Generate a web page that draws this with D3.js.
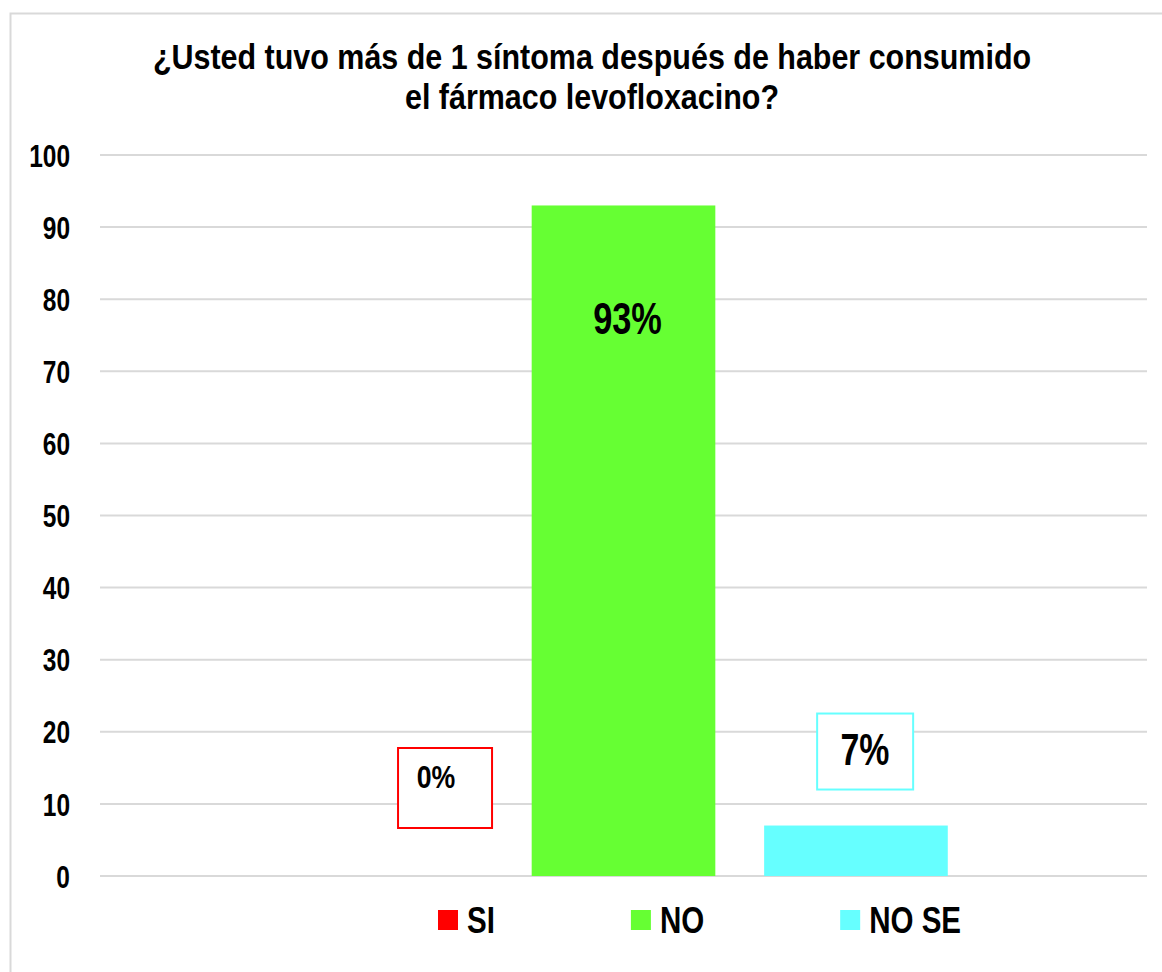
<!DOCTYPE html>
<html>
<head>
<meta charset="utf-8">
<script src="https://cdn.jsdelivr.net/npm/d3@7"></script>
<style>
  body { margin: 0; background: #fff; }
  text { font-family: "Liberation Sans Narrow", "Arial Narrow", "Liberation Sans", Arial, sans-serif; font-weight: bold; fill: #000; }
</style>
</head>
<body>
<div id="chart"></div>
<script>
var categories = ["SI", "NO", "NO SE"];
var values = [0, 93, 7];
var valueLabels = ["0%", "93%", "7%"];
var colors = ["#ff0000", "#66ff33", "#66ffff"];
var yTicks = [0, 10, 20, 30, 40, 50, 60, 70, 80, 90, 100];
var titleLines = ["¿Usted tuvo más de 1 síntoma después de haber consumido", "el fármaco levofloxacino?"];

var width = 1162, height = 972;
var plot = {left: 100, right: 1147, top: 155, bottom: 876};

// the original uses a narrow face, squeeze the text horizontally
function condense(sel, k) {
    sel.each(function() {
        var w = this.getComputedTextLength();
        d3.select(this)
            .attr("textLength", w * k)
            .attr("lengthAdjust", "spacingAndGlyphs");
    });
}

var svg = d3.select("#chart")
    .append("svg")
    .attr("width", width)
    .attr("height", height);

// outer chart border
svg.append("rect")
    .attr("x", 10.5)
    .attr("y", 13.5)
    .attr("width", 1160)
    .attr("height", 980)
    .attr("fill", "#fff")
    .attr("stroke", "#d9d9d9")
    .attr("stroke-width", 2);

var y = d3.scaleLinear()
    .domain([0, 100])
    .range([plot.bottom, plot.top]);

var x = d3.scaleBand()
    .domain(categories)
    .range([plot.left, plot.right])
    .paddingInner(0.21)
    .paddingOuter(0.857);

// title
svg.append("g")
    .selectAll("text")
    .data(titleLines)
    .enter()
    .append("text")
    .attr("text-anchor", "middle")
    .attr("font-size", 35)
    .attr("x", 592)
    .attr("y", function(d, i) { return 69 + i * 40; })
    .text(function(d) { return d; })
    .call(condense, 0.87);

// gridlines
svg.append("g")
    .selectAll("line")
    .data(yTicks)
    .enter()
    .append("line")
    .attr("x1", plot.left)
    .attr("x2", plot.right)
    .attr("y1", function(d) { return y(d); })
    .attr("y2", function(d) { return y(d); })
    .attr("stroke", "#d9d9d9")
    .attr("stroke-width", 2);

// y axis labels
var yAxis = svg.append("g")
    .attr("transform", "translate(" + plot.left + ",0)")
    .call(d3.axisLeft(y).tickValues(yTicks).tickSize(0).tickPadding(30));
yAxis.select(".domain").remove();
yAxis.attr("font-family", null).attr("font-size", null);
yAxis.selectAll("text")
    .attr("font-size", 31)
    .attr("dy", "0.36em")
    .call(condense, 0.79);

// bars
svg.append("g")
    .selectAll("rect")
    .data(values)
    .enter()
    .append("rect")
    .attr("x", function(d, i) { return x(categories[i]); })
    .attr("y", function(d) { return y(d); })
    .attr("width", x.bandwidth())
    .attr("height", function(d) { return y(0) - y(d); })
    .attr("fill", function(d, i) { return colors[i]; });

var cx = function(i) { return x(categories[i]) + x.bandwidth() / 2; };

// 93% inside the bar
svg.append("text")
    .attr("x", cx(1) + 4)
    .attr("y", y(values[1]) + 129)
    .attr("text-anchor", "middle")
    .attr("font-size", 44)
    .text(valueLabels[1])
    .call(condense, 0.78);

// boxed label for SI
svg.append("rect")
    .attr("x", cx(0) + 7)
    .attr("y", y(values[0]) - 128)
    .attr("width", 94)
    .attr("height", 80)
    .attr("fill", "#fff")
    .attr("stroke", colors[0])
    .attr("stroke-width", 2);
svg.append("text")
    .attr("x", cx(0) + 45)
    .attr("y", y(values[0]) - 88)
    .attr("text-anchor", "middle")
    .attr("font-size", 31)
    .text(valueLabels[0])
    .call(condense, 0.86);

// boxed label for NO SE
svg.append("rect")
    .attr("x", x(categories[2]) + 53)
    .attr("y", y(values[2]) - 112)
    .attr("width", 96)
    .attr("height", 76)
    .attr("fill", "#fff")
    .attr("stroke", colors[2])
    .attr("stroke-width", 2);
svg.append("text")
    .attr("x", cx(2) + 9)
    .attr("y", y(values[2]) - 61)
    .attr("text-anchor", "middle")
    .attr("font-size", 44)
    .text(valueLabels[2])
    .call(condense, 0.77);

// legend
var legend = svg.append("g");
var lx = 438;
categories.forEach(function(c, i) {
    var item = legend.append("g").attr("transform", "translate(" + lx + ",910)");
    item.append("rect")
        .attr("width", 20)
        .attr("height", 20)
        .attr("fill", colors[i]);
    var t = item.append("text")
        .attr("x", 29)
        .attr("y", 23)
        .attr("font-size", 36)
        .text(c);
    var w = t.node().getComputedTextLength() * 0.82;
    t.attr("textLength", w).attr("lengthAdjust", "spacingAndGlyphs");
    lx += 29 + w + 136;
});
</script>
</body>
</html>
